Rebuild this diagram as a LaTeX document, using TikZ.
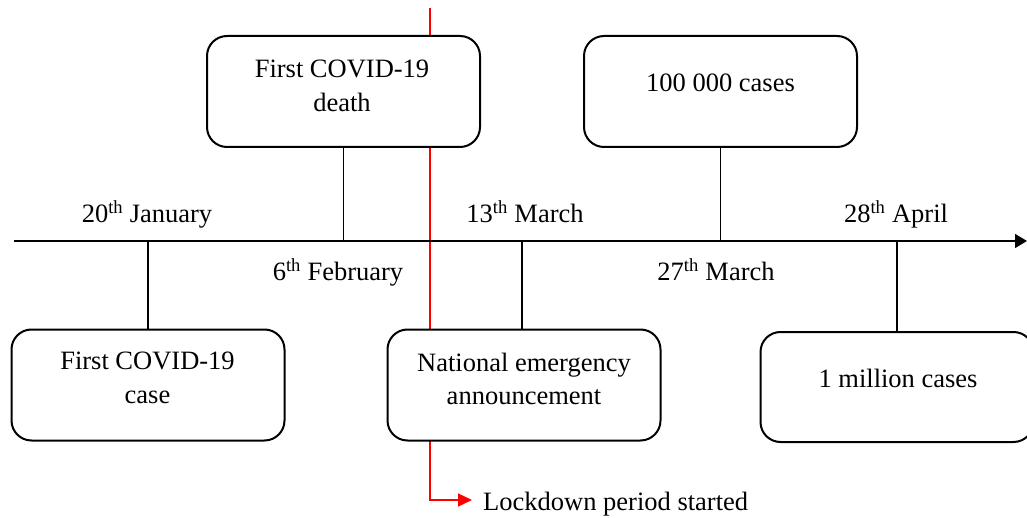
\documentclass[tikz,border=0pt]{standalone}
\usepackage{fontspec}
\setmainfont{Liberation Serif}
\usetikzlibrary{arrows.meta}
\begin{document}
\begin{tikzpicture}[x=1pt,y=-1pt,
  evbox/.style={draw=black,line width=2pt,rounded corners=20pt,fill=white,
    minimum width=273pt,minimum height=111pt,inner sep=0pt},
  boxtext/.style={anchor=base,inner sep=0pt,font=\fontsize{26.5}{32}\selectfont},
  datelbl/.style={anchor=base,inner sep=0pt,font=\fontsize{26.5}{32}\selectfont},
  tickline/.style={draw=black,line width=1.1pt},
  redline/.style={draw=red,color=red,line width=1.3pt}]
\useasboundingbox (0,0) rectangle (1027,518);
% red lockdown line (behind boxes)
\coordinate (rtop) at (430,8);
\coordinate (rbot) at (430,500);
\coordinate (rend) at (472,500);
\node[anchor=base west,inner sep=0pt,font=\fontsize{26.5}{32}\selectfont] (lock) at (483,510) {Lockdown period started};
\draw[redline,-{Triangle[length=14pt,width=13pt]}] (rtop) -- (rbot) -- (rend);
% axis
\coordinate (axs) at (14,241);
\coordinate (axe) at (1027,241);
\draw[line width=1.2pt,-{Triangle[length=12pt,width=14pt]}] (axs) -- (axe);
% boxes
\node[evbox] (death) at (343.5,91.5) {};
\node[evbox] (hund) at (720.5,91.5) {};
\node[evbox] (first) at (148,385) {};
\node[evbox] (natl) at (524,385) {};
\node[evbox, minimum height=110pt] (mill) at (897,387) {};
% box texts
\node[boxtext] (death1) at (342,77.7) {First COVID-19};
\node[boxtext] (death2) at (342,111.7) {death};
\node[boxtext] (hund1) at (720.5,91.7) {100 000 cases};
\node[boxtext] (first1) at (147.5,369.3) {First COVID-19};
\node[boxtext] (first2) at (147.5,403.3) {case};
\node[boxtext] (natl1) at (524,371.5) {National emergency};
\node[boxtext] (natl2) at (524,404.5) {announcement};
\node[boxtext] (mill1) at (898,387.7) {1 million cases};
% ticks
\draw[tickline] (death.south) -- (death.south |- axs);
\draw[tickline] (hund.south) -- (hund.south |- axs);
\draw[tickline] (first.north) -- (first.north |- axs);
\draw[tickline] ([xshift=-2pt]natl.north) -- ([xshift=-2pt]natl.north |- axs);
\draw[tickline] (mill.north) -- (mill.north |- axs);
% date labels
\node[datelbl] (d1) at (147,223) {20\textsuperscript{th} January};
\node[datelbl] (d2) at (338,280.7) {6\textsuperscript{th} February};
\node[datelbl] (d3) at (525,223) {13\textsuperscript{th} March};
\node[datelbl] (d4) at (716,280.7) {27\textsuperscript{th} March};
\node[datelbl] (d5) at (896,223) {28\textsuperscript{th} April};
\end{tikzpicture}
\end{document}
